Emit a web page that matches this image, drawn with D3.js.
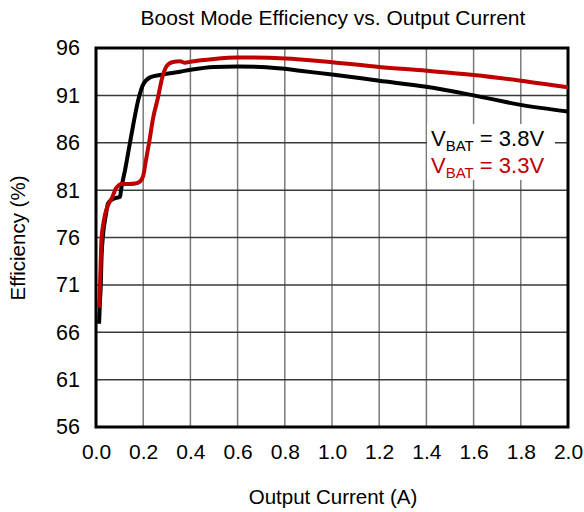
<!DOCTYPE html>
<html>
<head>
<meta charset="utf-8">
<script src="https://cdn.jsdelivr.net/npm/d3@7"></script>
<style>
  body { margin: 0; background: #fff; }
  text { font-family: "Liberation Sans", Arial, sans-serif; }
</style>
</head>
<body>
<div id="vis-svg"></div>
<script>
var width = 584;
var height = 512;

// 3.8 V series
var current38 = [0.013, 0.017, 0.020, 0.023, 0.030, 0.042, 0.051, 0.068, 0.089, 0.102, 0.106, 0.123, 0.144, 0.182, 0.199, 0.229, 0.271, 0.356, 0.40, 0.50, 0.60, 0.70, 0.80, 0.864, 1.0, 1.2, 1.4, 1.6, 1.8, 2.0];
var eff38 = [66.9, 69.4, 70.8, 73.6, 76.3, 78.4, 79.6, 80.0, 80.2, 80.3, 81.0, 83.1, 86.0, 90.8, 92.1, 92.9, 93.15, 93.5, 93.7, 94.0, 94.05, 94.0, 93.8, 93.6, 93.2, 92.55, 91.9, 91.0, 90.0, 89.3];

// 3.3 V series
var current33 = [0.013, 0.017, 0.019, 0.023, 0.030, 0.038, 0.051, 0.068, 0.085, 0.110, 0.140, 0.165, 0.186, 0.200, 0.212, 0.225, 0.242, 0.263, 0.280, 0.297, 0.322, 0.356, 0.377, 0.40, 0.50, 0.60, 0.80, 1.0, 1.2, 1.4, 1.6, 1.8, 2.0];
var eff33 = [68.6, 71.0, 72.6, 75.7, 77.3, 78.4, 79.4, 80.2, 81.2, 81.65, 81.65, 81.7, 81.9, 82.5, 84.2, 86.0, 88.6, 90.8, 92.8, 94.0, 94.5, 94.6, 94.45, 94.55, 94.85, 95.0, 94.9, 94.5, 94.0, 93.6, 93.15, 92.55, 91.85];

var xTicks = [0, 0.2, 0.4, 0.6, 0.8, 1.0, 1.2, 1.4, 1.6, 1.8, 2.0];
var yTicks = [56, 61, 66, 71, 76, 81, 86, 91, 96];

var margin = { left: 96, right: 16, top: 48, bottom: 85 };

var svg = d3
  .select("#vis-svg")
  .append("svg")
  .attr("width", width)
  .attr("height", height);

var x = d3.scaleLinear().domain([0, 2]).range([margin.left, width - margin.right]);
var y = d3.scaleLinear().domain([56, 96]).range([height - margin.bottom, margin.top]);

// grid
var grid = svg.append("g").attr("class", "grid");
grid.selectAll("line.vx")
  .data(xTicks)
  .enter()
  .append("line")
  .attr("x1", function(d) { return x(d); })
  .attr("x2", function(d) { return x(d); })
  .attr("y1", y(56))
  .attr("y2", y(96))
  .attr("stroke", "#7a7a7a")
  .attr("stroke-width", 1.5);

grid.selectAll("line.hy")
  .data(yTicks)
  .enter()
  .append("line")
  .attr("x1", x(0))
  .attr("x2", x(2))
  .attr("y1", function(d) { return y(d); })
  .attr("y2", function(d) { return y(d); })
  .attr("stroke", "#3a3a3a")
  .attr("stroke-width", 1.5);

// legend box hides the grid behind it
svg.append("rect")
  .attr("x", 427)
  .attr("y", 124)
  .attr("width", 128)
  .attr("height", 56)
  .attr("fill", "#fff");

// frame
svg.append("rect")
  .attr("x", x(0))
  .attr("y", y(96))
  .attr("width", x(2) - x(0))
  .attr("height", y(56) - y(96))
  .attr("fill", "none")
  .attr("stroke", "#000")
  .attr("stroke-width", 3);

// axes (labels only)
var xAxis = svg.append("g")
  .attr("transform", "translate(0," + y(56) + ")")
  .call(d3.axisBottom(x).tickValues(xTicks).tickSize(0).tickPadding(17)
    .tickFormat(d3.format(".1f")));
xAxis.select(".domain").remove();
xAxis.selectAll("text").attr("font-size", 21).attr("fill", "#000")
  .attr("font-family", "Liberation Sans, Arial, sans-serif");

var yAxis = svg.append("g")
  .attr("transform", "translate(" + x(0) + ",0)")
  .call(d3.axisLeft(y).tickValues(yTicks).tickSize(0).tickPadding(16));
yAxis.select(".domain").remove();
yAxis.selectAll("text").attr("font-size", 21.5).attr("fill", "#000")
  .attr("font-family", "Liberation Sans, Arial, sans-serif");

// curves
var line = d3.line()
  .x(function(d) { return x(d[0]); })
  .y(function(d) { return y(d[1]); })
  .curve(d3.curveMonotoneX);

svg.append("path")
  .datum(d3.zip(current38, eff38))
  .attr("d", line)
  .attr("fill", "none")
  .attr("stroke", "#000")
  .attr("stroke-width", 4)
  .attr("stroke-linejoin", "round");

svg.append("path")
  .datum(d3.zip(current33, eff33))
  .attr("d", line)
  .attr("fill", "none")
  .attr("stroke", "#c00000")
  .attr("stroke-width", 4)
  .attr("stroke-linejoin", "round");

// titles
svg.append("text")
  .attr("x", 333)
  .attr("y", 25)
  .attr("text-anchor", "middle")
  .attr("font-size", 21)
  .text("Boost Mode Efficiency vs. Output Current");

svg.append("text")
  .attr("x", 333)
  .attr("y", 504)
  .attr("text-anchor", "middle")
  .attr("font-size", 20.5)
  .text("Output Current (A)");

svg.append("text")
  .attr("transform", "translate(25,238) rotate(-90)")
  .attr("text-anchor", "middle")
  .attr("font-size", 20.5)
  .text("Efficiency (%)");

// legend
var legend = [["3.8V", "#000", 146], ["3.3V", "#c00000", 173]];
legend.forEach(function(l) {
  var t = svg.append("text")
    .attr("x", 431)
    .attr("y", l[2])
    .attr("font-size", 22)
    .attr("fill", l[1]);
  t.append("tspan").text("V");
  t.append("tspan").attr("font-size", 15).attr("dy", 5).text("BAT");
  t.append("tspan").attr("dy", -5).text(" = " + l[0]);
});
</script>
</body>
</html>
